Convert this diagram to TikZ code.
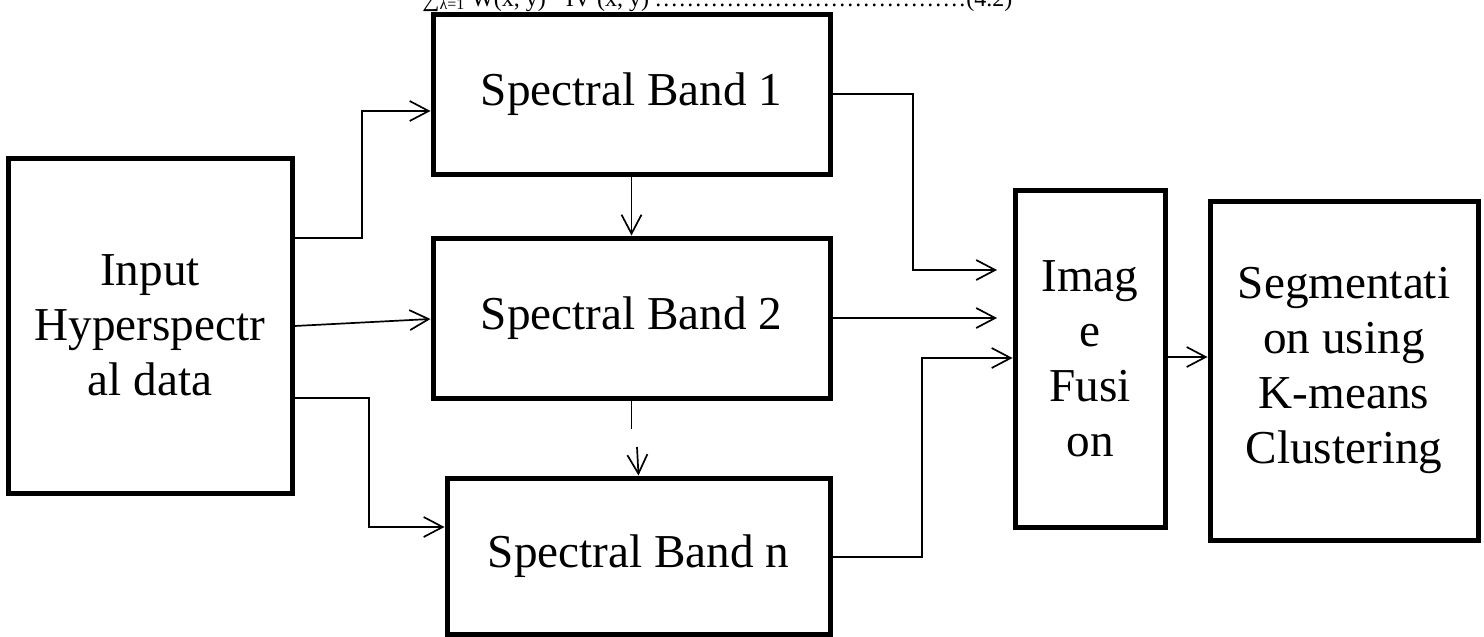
\documentclass[tikz,border=0pt]{standalone}
\usepackage{fontspec}
\setmainfont{Liberation Serif}
\usetikzlibrary{arrows.meta}
\begin{document}
\begin{tikzpicture}[x=0.5pt,y=-0.5pt,
  box/.style={draw, line width=2.5pt, inner sep=0pt, align=center,
    font=\fontsize{23.6pt}{27.5pt}\selectfont},
  conn/.style={line width=0.85pt},
  arr/.style={conn, -{Straight Barb[length=9.5pt,width=10pt]}},
  eqtext/.style={anchor=base west, inner sep=0pt, font=\fontsize{12pt}{14pt}\selectfont}]
\fill[white] (0,0) rectangle (1484,637);
\useasboundingbox (0,0) rectangle (1484,637);

% formula line, cut at the top of the picture as in the reference
\node[eqtext] (eq) at (422,6) {\hbox to 295pt{∑\textsubscript{λ=1} W(x, y) · IV (x, y)\leaders\hbox to 4pt{\hss.\hss}\hfill(4.2)}};

% boxes
\node[box, minimum width=142pt, minimum height=167.5pt] (inp) at (150,325.5) {Input\\Hyperspectr\\al data};
\node[box, minimum width=198.5pt, minimum height=80pt] (sb1) at (631.5,94) {Spectral Band 1};
\node[box, minimum width=198.5pt, minimum height=80pt] (sb2) at (631.5,318) {Spectral Band 2};
\node[box, minimum width=191.5pt, minimum height=78pt] (sbn) at (638.5,556) {Spectral Band n};
\node[box, minimum width=75pt, minimum height=168.5pt] (fus) at (1090,358.5) {Imag\\e\\Fusi\\on};
\node[box, minimum width=134pt, minimum height=169.5pt] (seg) at (1344,370.5) {Segmentati\\on using\\K-means\\Clustering};

% free ends
\coordinate (gapend) at (631.5,429);
\coordinate (gapstart) at (637,447);
\coordinate (f1) at (997,270);
\coordinate (f2) at (997,318);

% connectors
\draw[arr] (inp.east |- 0,238) -- (362,238) -- (362,111) -- (sb1.west |- 0,111);
\draw[arr] (inp.east |- 0,326) -- (sb2.west |- 0,319);
\draw[arr] (inp.east |- 0,398) -- (369,398) -- (369,527) -- (sbn.west |- 0,527);
\draw[arr] (sb1.south) -- (sb2.north);
\draw[conn] (sb2.south) -- (gapend);
\draw[arr] (gapstart) -- (sbn.north);
\draw[arr] (sb1.east) -- (913,94) -- (913,270) -- (f1);
\draw[arr] (sb2.east) -- (f2);
\draw[arr] (sbn.east |- 0,557) -- (922,557) -- (922,358) -- (fus.west |- 0,358);
\draw[arr] (fus.east |- 0,357) -- (seg.west |- 0,357);
\end{tikzpicture}
\end{document}
